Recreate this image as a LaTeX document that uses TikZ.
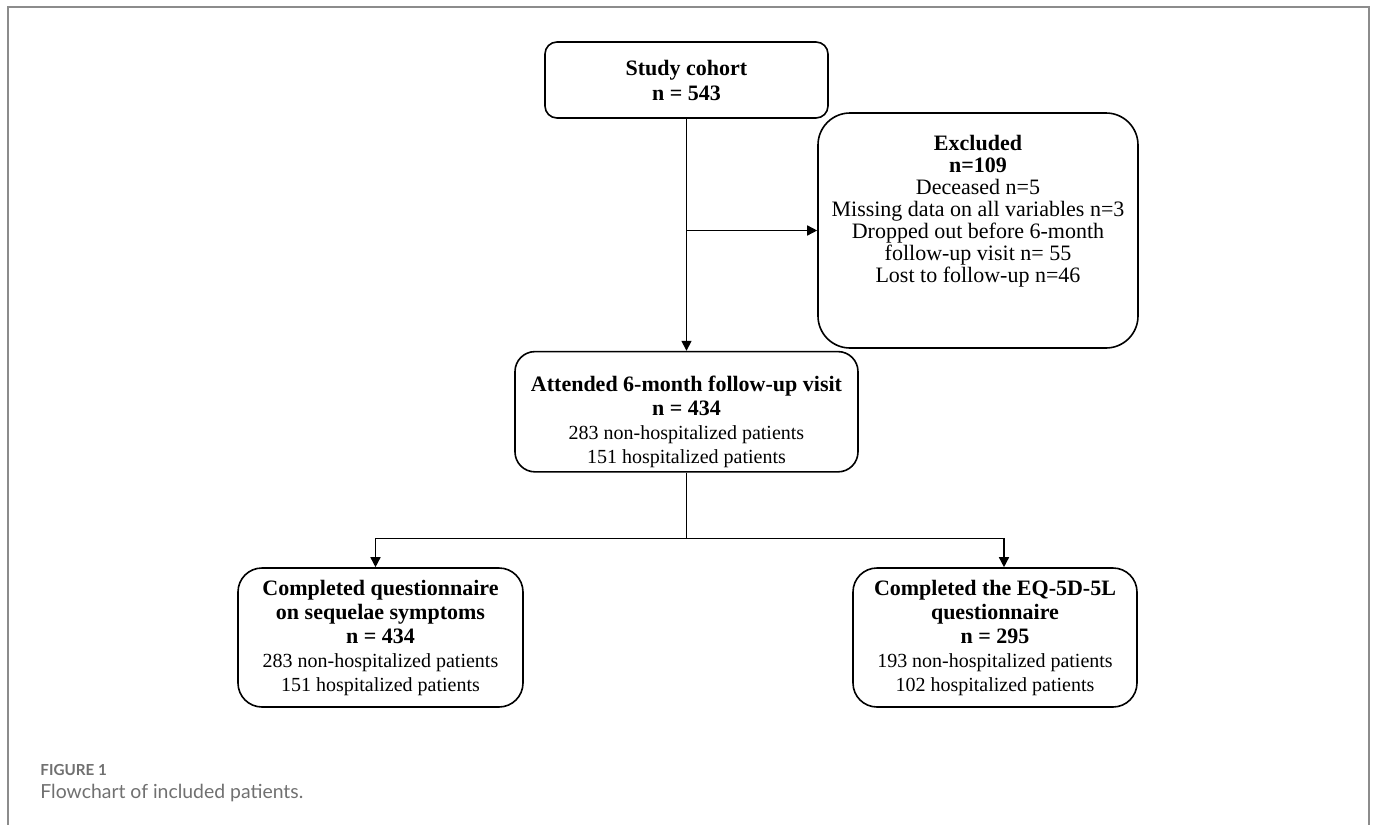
\documentclass[tikz,border=0pt]{standalone}
\usepackage{fontspec}
\setmainfont{Liberation Serif}
\newfontfamily\capfont{Lato}
\usetikzlibrary{arrows.meta,positioning,calc}
\definecolor{colFrame}{HTML}{8C8C8C}
\definecolor{colCaption}{HTML}{707070}
\tikzset{
  pbox/.style={draw=black,line width=0.8pt,fill=white,align=center,inner sep=2pt,
    font=\fontsize{10}{12}\selectfont},
  parr/.style={-{Triangle[length=5pt,width=5pt]},line width=0.75pt},
  pline/.style={line width=0.75pt},
}
\newcommand{\boxhead}[1]{{\fontsize{11}{12}\selectfont\bfseries #1}}

\begin{document}
\begin{tikzpicture}[x=0.5pt,y=-0.5pt]
      \useasboundingbox (0,0) rectangle (1373,825);
      \draw[colFrame,line width=1pt] (8,825) -- (8,7) -- (1369,7) -- (1369,825);
      \node[pbox,rounded corners=6pt,minimum width=141.5pt,minimum height=38pt,
        font=\fontsize{11}{12.5}\selectfont] (cohort) at (686.5,80)
        {\boxhead{Study cohort}\\\boxhead{n = 543}};
      \node[pbox,rounded corners=10pt,minimum width=171.5pt,minimum height=58.5pt,below=116pt of cohort] (att)
        {\rule{0pt}{18pt}\boxhead{Attended 6-month follow-up visit}\\\boxhead{n = 434}\\
         283 non-hospitalized patients\\151 hospitalized patients};
      \node[pbox,rounded corners=16pt,minimum width=160pt,minimum height=117.5pt,text depth=22pt,
        font=\fontsize{11}{11}\selectfont] (excl) at (978,230.5)
        {\boxhead{Excluded}\\\boxhead{n=109}\\
         Deceased n=5\\Missing data on all variables n=3\\
         Dropped out before 6-month\\follow-up visit n= 55\\Lost to follow-up n=46};
      \node[pbox,rounded corners=12pt,minimum width=142.5pt,minimum height=69.5pt] (comp) at (380.5,637.5)
        {\boxhead{Completed questionnaire}\\\boxhead{on sequelae symptoms}\\\boxhead{n = 434}\\
         283 non-hospitalized patients\\151 hospitalized patients};
      \node[pbox,rounded corners=12pt,minimum width=142pt,minimum height=69.5pt] (eq) at (995,637.5)
        {\boxhead{Completed the EQ-5D-5L}\\\boxhead{questionnaire}\\\boxhead{n = 295}\\
         193 non-hospitalized patients\\102 hospitalized patients};
      \draw[parr] (cohort) -- (att);
      \draw[parr] (cohort.south |- excl.west) -- (excl.west);
      \coordinate (split) at ($(att.south)+(0,66)$);
      \draw[pline] (att.south) -- (split);
      \draw[parr] (split) -| ($(comp.north)+(-5,0)$);
      \draw[parr] (split) -| ($(eq.north)+(9,0)$);
      \node[anchor=base west,inner sep=0pt,text=colCaption,font=\capfont\bfseries\fontsize{7.6}{8}\selectfont] (figlab) at (40,775) {FIGURE 1};
      \node[anchor=base west,inner sep=0pt,text=colCaption,font=\capfont\fontsize{9.7}{11}\selectfont] (figcap) at (40,798) {Flowchart of included patients.};
    \end{tikzpicture}
\end{document}
